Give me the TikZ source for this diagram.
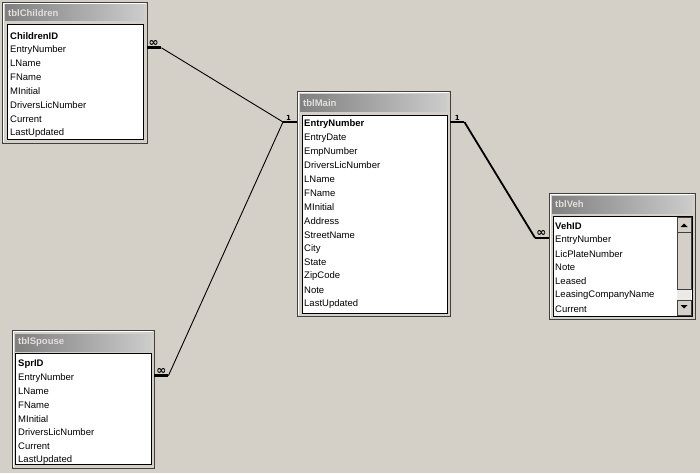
\documentclass[tikz,border=0pt]{standalone}
\usepackage{fontspec}
\setmainfont{Liberation Sans}
\newfontfamily\cardfont{DejaVu Sans}
\usetikzlibrary{calc}
\definecolor{winbg}{RGB}{212,208,200}
\definecolor{winshadow}{RGB}{64,64,64}
\definecolor{titledark}{RGB}{128,128,128}
\definecolor{titlelight}{RGB}{204,204,204}
\definecolor{titletxt}{RGB}{226,224,220}
\tikzset{
  tblframe/.style = {draw=winshadow, fill=winbg, anchor=north west, inner sep=0},
  titlebar/.style = {left color=titledark, right color=titlelight},
  titletext/.style = {anchor=west, inner sep=0, text=titletxt, font=\fontsize{9.5}{11}\selectfont\bfseries},
  fieldlist/.style = {draw=black, fill=white},
  field/.style = {anchor=west, inner sep=0, font=\fontsize{9.5}{11}\selectfont},
  stub/.style = {line width=2.6pt},
  link/.style = {line width=0.9pt},
  card/.style = {anchor=south, inner sep=0.8pt, font=\cardfont\fontsize{7}{7}\selectfont\bfseries},
  many/.style = {card, font=\cardfont\fontsize{12}{12}\selectfont\bfseries}
}

\begin{document}
\begin{tikzpicture}[x=1pt, y=-1pt]
\fill[winbg] (0,0) rectangle (700,473);
\useasboundingbox (0,0) rectangle (700,473);

% tblChildren
\begin{scope}[shift={(2,2)}]
\node[tblframe, minimum width=145, minimum height=141] (children) at (0,0) {};
\draw[white] (1,140) -- (1,1) -- (144,1);
\shade[titlebar] (3,3) rectangle (142,19);
\node[titletext] at (6,11) {tblChildren};
\draw[fieldlist] (5,22) rectangle (141,137);
\foreach \f [count=\i] in {ChildrenID,EntryNumber,LName,FName,MInitial,DriversLicNumber,Current,LastUpdated}
  \node[field] (ch\i) at (8, {34+13.8*(\i-1)}) {\ifnum\i=1 \bfseries\fi\f};
\end{scope}

% tblMain
\begin{scope}[shift={(297,91)}]
\node[tblframe, minimum width=153, minimum height=225] (main) at (0,0) {};
\draw[white] (1,224) -- (1,1) -- (152,1);
\shade[titlebar] (3,4) rectangle (150,21);
\node[titletext] at (6,12.5) {tblMain};
\draw[fieldlist] (5,24) rectangle (150,222);
\foreach \f [count=\i] in {EntryNumber,EntryDate,EmpNumber,DriversLicNumber,LName,FName,MInitial,Address,StreetName,City,State,ZipCode,Note,LastUpdated}
  \node[field] (mn\i) at (7, {33+13.85*(\i-1)}) {\ifnum\i=1 \bfseries\fi\f};
\end{scope}

% tblVeh
\begin{scope}[shift={(549,193)}]
\node[tblframe, minimum width=146, minimum height=126] (veh) at (0,0) {};
\draw[white] (1,125) -- (1,1) -- (145,1);
\shade[titlebar] (3,3) rectangle (143,20);
\node[titletext] at (6,11.5) {tblVeh};
\draw[fieldlist] (4,23) rectangle (143,123);
\foreach \f [count=\i] in {VehID,EntryNumber,LicPlateNumber,Note,Leased,LeasingCompanyName,Current}
  \node[field] (vh\i) at (6, {33+13.83*(\i-1)}) {\ifnum\i=1 \bfseries\fi\f};
% scroll bar
\fill[winbg!45!white] (128,24) rectangle (142,122);
\draw[fill=winbg, draw=winshadow] (128,24) rectangle (142,39);
\fill (131.5,34) -- (138.5,34) -- (135,30.5) -- cycle;
\draw[fill=winbg, draw=winshadow] (128,39) rectangle (142,96);
\draw[fill=winbg, draw=winshadow] (128,107) rectangle (142,122);
\fill (131.5,112) -- (138.5,112) -- (135,115.5) -- cycle;
\end{scope}

% tblSpouse
\begin{scope}[shift={(12,330)}]
\node[tblframe, minimum width=142, minimum height=138] (spouse) at (0,0) {};
\draw[white] (1,137) -- (1,1) -- (141,1);
\shade[titlebar] (3,4) rectangle (139,21);
\node[titletext] at (6,12.5) {tblSpouse};
\draw[fieldlist] (3,23) rectangle (139,134);
\foreach \f [count=\i] in {SprID,EntryNumber,LName,FName,MInitial,DriversLicNumber,Current,LastUpdated}
  \node[field] (sp\i) at (6, {34+13.7*(\i-1)}) {\ifnum\i=1 \bfseries\fi\f};
\end{scope}

% relationships
\coordinate (chStart) at ($(ch2 -| children.east)+(0,-2)$);
\coordinate (chEnd) at ($(chStart)+(14,0)$);
\coordinate (mnLeftStart) at ($(mn1 -| main.west)+(0,-2)$);
\coordinate (mnLeft) at ($(mnLeftStart)+(-14,0)$);
\coordinate (mnRightStart) at ($(mn1 -| main.east)+(0,-2)$);
\coordinate (mnRight) at ($(mnRightStart)+(14,0)$);
\coordinate (vhStart) at ($(vh2 -| veh.west)+(0,-2)$);
\coordinate (vhEnd) at ($(vhStart)+(-14,0)$);
\coordinate (spStart) at ($(sp2 -| spouse.east)+(0,-2)$);
\coordinate (spEnd) at ($(spStart)+(14,0)$);
\draw[stub] (chStart) -- (chEnd);
\draw[stub] (mnLeftStart) -- (mnLeft);
\draw[stub] (mnRightStart) -- (mnRight);
\draw[stub] (vhStart) -- (vhEnd);
\draw[stub] (spStart) -- (spEnd);
\node[many] (chMany) at ($(chStart)!0.45!(chEnd)$) {∞};
\node[card] (mnOneL) at ($(mnLeftStart)!0.6!(mnLeft)$) {1};
\node[card] (mnOneR) at ($(mnRightStart)!0.5!(mnRight)$) {1};
\node[many] (vhMany) at ($(vhStart)!0.55!(vhEnd)$) {∞};
\node[many] (spMany) at ($(spStart)!0.5!(spEnd)$) {∞};
\draw[link] (chEnd) -- (mnLeft);
\draw[link] (spEnd) -- (mnLeft);
\draw[link, line width=1.8pt] (mnRight) -- (vhEnd);
\end{tikzpicture}
\end{document}
